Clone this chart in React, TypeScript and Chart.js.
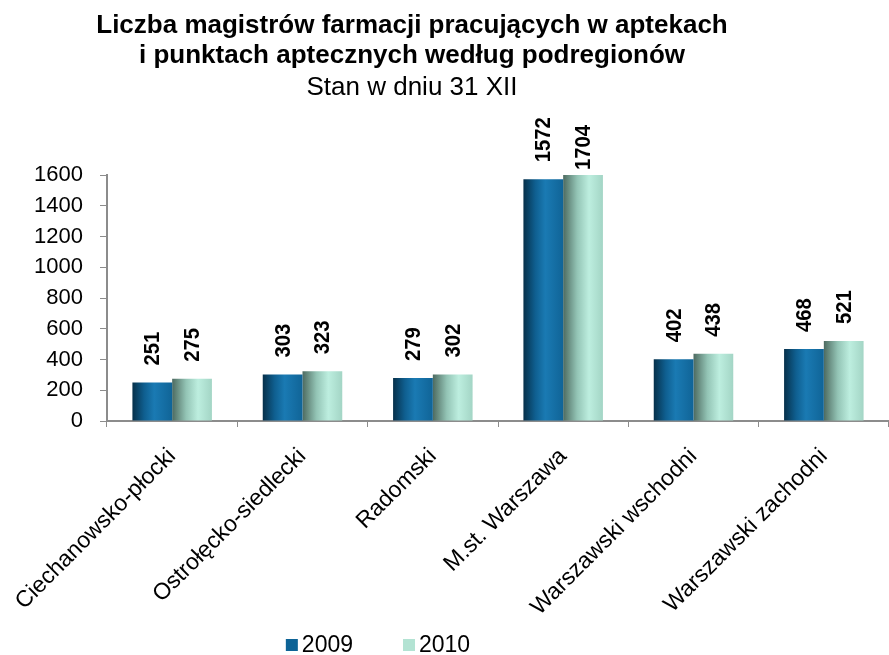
import React, { useEffect, useRef } from 'react';
import { Chart, registerables } from 'chart.js';

Chart.register(...registerables);

const FONT = "'Liberation Sans', Arial, Helvetica, sans-serif";

const titleLines = [
  'Liczba magistrów farmacji pracujących w aptekach',
  'i punktach aptecznych według podregionów',
];
const subtitle = 'Stan w dniu 31 XII';

const categories = [
  'Ciechanowsko-płocki',
  'Ostrołęcko-siedlecki',
  'Radomski',
  'M.st. Warszawa',
  'Warszawski wschodni',
  'Warszawski zachodni',
];
const seriesLabels = ['2009', '2010'];
const values2009 = [251, 303, 279, 1572, 402, 468];
const values2010 = [275, 323, 302, 1704, 438, 521];
const yMin = 0;
const yMax = 1600;
const yStep = 200;

const legendColors = ['#0d6396', '#b3e3d3'];
const gradientStops: [number, string][][] = [
  [
    [0, '#06304a'],
    [0.3, '#0f5f90'],
    [0.55, '#1a7ab3'],
    [1, '#106497'],
  ],
  [
    [0, '#4d6a60'],
    [0.35, '#93c4b5'],
    [0.65, '#bdeedf'],
    [1, '#a3d5c5'],
  ],
];

const gradientPlugin = {
  id: 'gradientBars',
  beforeDatasetsDraw(chart: any) {
    const ctx = chart.ctx;
    chart.data.datasets.forEach((_ds: any, di: number) => {
      const meta = chart.getDatasetMeta(di);
      meta.data.forEach((el: any) => {
        const { x, width } = el.getProps(['x', 'width'], true);
        const g = ctx.createLinearGradient(x - width / 2, 0, x + width / 2, 0);
        gradientStops[di].forEach(([o, c]) => g.addColorStop(o, c));
        el.options.backgroundColor = g;
      });
    });
  },
};

const valueLabelPlugin = {
  id: 'valueLabels',
  afterDatasetsDraw(chart: any) {
    const ctx = chart.ctx;
    const top = chart.chartArea.top;
    chart.data.datasets.forEach((ds: any, di: number) => {
      const meta = chart.getDatasetMeta(di);
      meta.data.forEach((el: any, i: number) => {
        const v = ds.data[i];
        const { x, y } = el.getProps(['x', 'y'], true);
        const clipped = y < top;
        const yy = Math.max(y, top) - (clipped ? 5 : 17);
        ctx.save();
        ctx.translate(x, yy);
        ctx.rotate(-Math.PI / 2);
        ctx.scale(0.92, 1);
        ctx.font = `bold 22px ${FONT}`;
        ctx.fillStyle = '#000';
        ctx.textAlign = 'left';
        ctx.textBaseline = 'middle';
        ctx.fillText(String(v), 0, 1);
        ctx.restore();
      });
    });
  },
};

const titlePlugin = {
  id: 'customTitle',
  afterDraw(chart: any) {
    const ctx = chart.ctx;
    const cx = 412;
    ctx.save();
    ctx.fillStyle = '#000';
    ctx.textAlign = 'center';
    ctx.textBaseline = 'alphabetic';
    ctx.font = `bold 26px ${FONT}`;
    ctx.fillText(titleLines[0], cx, 33);
    ctx.fillText(titleLines[1], cx, 63);
    ctx.font = `26px ${FONT}`;
    ctx.fillText(subtitle, cx, 95);
    ctx.restore();
  },
};

const legendPlugin = {
  id: 'customLegend',
  afterDraw(chart: any) {
    const ctx = chart.ctx;
    ctx.save();
    ctx.font = `23px ${FONT}`;
    const box = 12;
    const gap = 4;
    const itemGap = 50;
    const widths = chart.data.datasets.map((ds: any) => box + gap + ctx.measureText(ds.label).width);
    const total = widths.reduce((a: number, b: number) => a + b, 0) + itemGap * (widths.length - 1);
    let x = 378 - total / 2;
    const cy = 645;
    chart.data.datasets.forEach((ds: any, i: number) => {
      ctx.fillStyle = legendColors[i];
      ctx.fillRect(x, cy - box / 2, box, box);
      ctx.fillStyle = '#000';
      ctx.textAlign = 'left';
      ctx.textBaseline = 'middle';
      ctx.fillText(ds.label, x + box + gap, cy + 1);
      x += widths[i] + itemGap;
    });
    ctx.restore();
  },
};

export default function App() {
  const ref = useRef<HTMLCanvasElement | null>(null);
  useEffect(() => {
    if (!ref.current) return;
    const chart = new Chart(ref.current, {
      type: 'bar',
      data: {
        labels: categories,
        datasets: [
          {
            label: seriesLabels[0],
            data: values2009,
            backgroundColor: () => legendColors[0],
            borderWidth: 0,
            barPercentage: 1,
            categoryPercentage: 0.61,
          },
          {
            label: seriesLabels[1],
            data: values2010,
            backgroundColor: () => legendColors[1],
            borderWidth: 0,
            barPercentage: 1,
            categoryPercentage: 0.61,
          },
        ],
      },
      options: {
        animation: false,
        responsive: false,
        maintainAspectRatio: false,
        layout: { padding: { top: 175, left: 0, right: 0, bottom: 0 } },
        plugins: {
          legend: { display: false },
          title: { display: false },
          tooltip: { enabled: false },
        },
        scales: {
          x: {
            offset: true,
            grid: {
              display: true,
              drawOnChartArea: false,
              drawTicks: true,
              tickLength: 6,
              color: '#8c8c8c',
              offset: true,
            },
            border: { display: true, color: '#8c8c8c', width: 2 },
            ticks: {
              color: '#000',
              font: { size: 23, family: FONT },
              maxRotation: 45,
              minRotation: 45,
              padding: 16,
              autoSkip: false,
            },
            afterFit: (s: any) => {
              s.height = 234;
              s.paddingLeft = 0;
              s.paddingRight = 0;
            },
          },
          y: {
            min: yMin,
            max: yMax,
            grid: {
              display: true,
              drawOnChartArea: false,
              drawTicks: true,
              tickLength: 7,
              color: '#8c8c8c',
            },
            border: { display: true, color: '#8c8c8c', width: 2 },
            ticks: {
              stepSize: yStep,
              color: '#000',
              font: { size: 22, family: FONT },
              padding: 17,
              callback: (v: any) => String(v),
            },
            afterFit: (s: any) => {
              s.width = 107;
            },
          },
        },
      },
      plugins: [gradientPlugin, valueLabelPlugin, titlePlugin, legendPlugin],
    });
    return () => chart.destroy();
  }, []);
  return (
    <div style={{ position: 'fixed', left: 0, top: 0, width: 889, height: 655, background: '#fff' }}>
      <canvas ref={ref} width={889} height={655} />
    </div>
  );
}
